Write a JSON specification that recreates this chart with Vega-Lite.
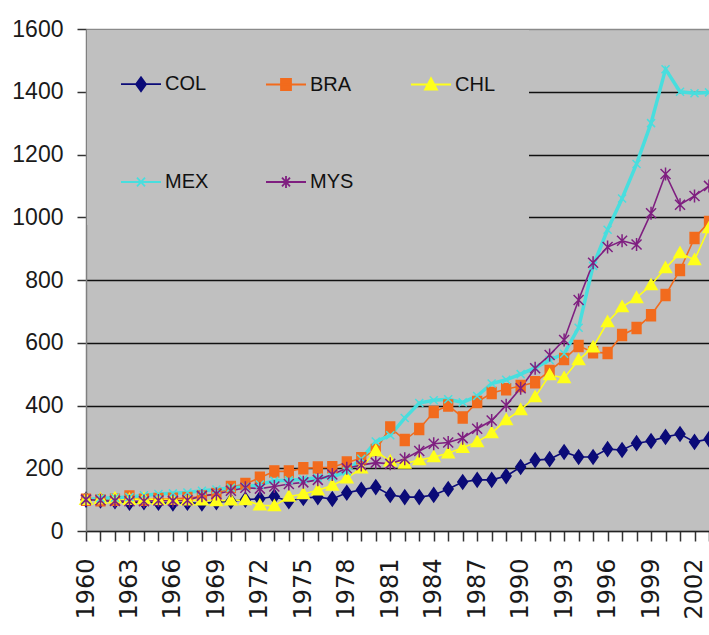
{
  "$schema": "https://vega.github.io/schema/vega-lite/v6.json",
  "width": 623,
  "height": 502,
  "autosize": {"type": "none"},
  "padding": {"left": 86, "top": 29, "right": 0, "bottom": 104},
  "background": "#ffffff",
  "config": {"view": {"fill": "#c0c0c0", "stroke": null}},
  "data": {
    "values": [
      {"year": 1960, "COL": 100, "BRA": 100, "CHL": 100, "MEX": 100, "MYS": 100},
      {"year": 1961, "COL": 97, "BRA": 98, "CHL": 102, "MEX": 104, "MYS": 98},
      {"year": 1962, "COL": 95, "BRA": 100, "CHL": 104, "MEX": 106, "MYS": 96},
      {"year": 1963, "COL": 90, "BRA": 110, "CHL": 100, "MEX": 108, "MYS": 95},
      {"year": 1964, "COL": 92, "BRA": 100, "CHL": 103, "MEX": 114, "MYS": 95},
      {"year": 1965, "COL": 90, "BRA": 102, "CHL": 100, "MEX": 118, "MYS": 97},
      {"year": 1966, "COL": 88, "BRA": 103, "CHL": 101, "MEX": 120, "MYS": 96},
      {"year": 1967, "COL": 90, "BRA": 105, "CHL": 98, "MEX": 123, "MYS": 98},
      {"year": 1968, "COL": 88, "BRA": 110, "CHL": 98, "MEX": 128, "MYS": 112},
      {"year": 1969, "COL": 92, "BRA": 118, "CHL": 96, "MEX": 132, "MYS": 118},
      {"year": 1970, "COL": 95, "BRA": 140, "CHL": 98, "MEX": 138, "MYS": 128},
      {"year": 1971, "COL": 100, "BRA": 150, "CHL": 99, "MEX": 140, "MYS": 138},
      {"year": 1972, "COL": 103, "BRA": 170, "CHL": 82, "MEX": 148, "MYS": 135},
      {"year": 1973, "COL": 110, "BRA": 190, "CHL": 80, "MEX": 160, "MYS": 142},
      {"year": 1974, "COL": 95, "BRA": 190, "CHL": 110, "MEX": 162, "MYS": 150},
      {"year": 1975, "COL": 105, "BRA": 200, "CHL": 118, "MEX": 165, "MYS": 155},
      {"year": 1976, "COL": 108, "BRA": 202, "CHL": 130, "MEX": 170, "MYS": 163},
      {"year": 1977, "COL": 102, "BRA": 203, "CHL": 145, "MEX": 172, "MYS": 180},
      {"year": 1978, "COL": 122, "BRA": 218, "CHL": 168, "MEX": 190, "MYS": 200},
      {"year": 1979, "COL": 131, "BRA": 232, "CHL": 200, "MEX": 230, "MYS": 210},
      {"year": 1980, "COL": 140, "BRA": 258, "CHL": 255, "MEX": 285, "MYS": 218},
      {"year": 1981, "COL": 115, "BRA": 330, "CHL": 222, "MEX": 305, "MYS": 214},
      {"year": 1982, "COL": 108, "BRA": 290, "CHL": 215, "MEX": 360, "MYS": 230},
      {"year": 1983, "COL": 108, "BRA": 325, "CHL": 226, "MEX": 408, "MYS": 255},
      {"year": 1984, "COL": 115, "BRA": 379, "CHL": 236, "MEX": 417, "MYS": 278},
      {"year": 1985, "COL": 134, "BRA": 400, "CHL": 248, "MEX": 420, "MYS": 282},
      {"year": 1986, "COL": 156, "BRA": 362, "CHL": 265, "MEX": 410, "MYS": 296},
      {"year": 1987, "COL": 163, "BRA": 411, "CHL": 284, "MEX": 430, "MYS": 326},
      {"year": 1988, "COL": 163, "BRA": 440, "CHL": 312, "MEX": 470, "MYS": 352},
      {"year": 1989, "COL": 175, "BRA": 452, "CHL": 354, "MEX": 482, "MYS": 401},
      {"year": 1990, "COL": 204, "BRA": 462, "CHL": 386, "MEX": 500, "MYS": 455},
      {"year": 1991, "COL": 226, "BRA": 474, "CHL": 427, "MEX": 520, "MYS": 519},
      {"year": 1992, "COL": 229, "BRA": 510, "CHL": 497, "MEX": 545, "MYS": 561},
      {"year": 1993, "COL": 252, "BRA": 548, "CHL": 488, "MEX": 565, "MYS": 609},
      {"year": 1994, "COL": 236, "BRA": 590, "CHL": 545, "MEX": 648, "MYS": 736},
      {"year": 1995, "COL": 236, "BRA": 570, "CHL": 586, "MEX": 845, "MYS": 855},
      {"year": 1996, "COL": 261, "BRA": 567, "CHL": 666, "MEX": 960, "MYS": 905},
      {"year": 1997, "COL": 258, "BRA": 625, "CHL": 714, "MEX": 1060, "MYS": 925},
      {"year": 1998, "COL": 280, "BRA": 647, "CHL": 743, "MEX": 1170, "MYS": 913},
      {"year": 1999, "COL": 287, "BRA": 688, "CHL": 784, "MEX": 1300, "MYS": 1013},
      {"year": 2000, "COL": 300, "BRA": 752, "CHL": 838, "MEX": 1472, "MYS": 1138},
      {"year": 2001, "COL": 309, "BRA": 832, "CHL": 886, "MEX": 1400, "MYS": 1040},
      {"year": 2002, "COL": 284, "BRA": 934, "CHL": 864, "MEX": 1395, "MYS": 1068},
      {"year": 2003, "COL": 293, "BRA": 985, "CHL": 966, "MEX": 1398, "MYS": 1100}
    ]
  },
  "transform": [
    {"fold": ["COL", "BRA", "CHL", "MEX", "MYS"], "as": ["series", "value"]}
  ],
  "encoding": {
    "x": {
      "field": "year",
      "type": "quantitative",
      "scale": {"domain": [1960, 2003], "nice": false, "zero": false},
      "axis": {
        "title": null,
        "values": [1960, 1961, 1962, 1963, 1964, 1965, 1966, 1967, 1968, 1969, 1970, 1971, 1972, 1973, 1974, 1975, 1976, 1977, 1978, 1979, 1980, 1981, 1982, 1983, 1984, 1985, 1986, 1987, 1988, 1989, 1990, 1991, 1992, 1993, 1994, 1995, 1996, 1997, 1998, 1999, 2000, 2001, 2002, 2003],
        "format": "d",
        "labelExpr": "(datum.value - 1960) % 3 === 0 ? datum.label : ''",
        "labelAngle": 270,
        "labelAlign": "right",
        "labelBaseline": "middle",
        "labelFont": "DejaVu Sans",
        "labelFontSize": 24,
        "labelColor": "#1a1a1a",
        "labelPadding": 17,
        "labelOverlap": false,
        "labelFlush": false,
        "labelBound": false,
        "tickSize": 10,
        "tickColor": "#333333",
        "tickWidth": 1.5,
        "domainColor": "#222222",
        "domainWidth": 1.5,
        "grid": false
      }
    },
    "y": {
      "field": "value",
      "type": "quantitative",
      "scale": {"domain": [0, 1600], "nice": false},
      "axis": {
        "title": null,
        "values": [0, 200, 400, 600, 800, 1000, 1200, 1400, 1600],
        "format": "d",
        "labelFont": "Liberation Sans",
        "labelFontSize": 23,
        "labelColor": "#1a1a1a",
        "labelPadding": 14,
        "tickSize": 9,
        "tickColor": "#333333",
        "tickWidth": 1.5,
        "domainColor": "#808080",
        "domainWidth": 1.5,
        "grid": true,
        "gridColor": {"condition": {"test": "datum.value === 0 || datum.value === 1600", "value": "#8a8a8a"}, "value": "#111111"},
        "gridWidth": 1.6
      }
    },
    "color": {
      "field": "series",
      "type": "nominal",
      "scale": {
        "domain": ["COL", "BRA", "CHL", "MEX", "MYS"],
        "range": ["#0b0b78", "#f26b1d", "#ffff1a", "#48dede", "#7f1f80"]
      },
      "legend": {
        "title": null,
        "orient": "none",
        "legendX": 1,
        "legendY": 1,
        "direction": "horizontal",
        "columns": 3,
        "padding": 33,
        "fillColor": "#c0c0c0",
        "strokeColor": null,
        "symbolSize": 1600,
        "symbolStrokeWidth": 1.8,
        "columnPadding": 53,
        "rowPadding": 66,
        "labelFont": "Liberation Sans",
        "labelFontSize": 20,
        "labelColor": "#111111",
        "labelOffset": 3,
        "symbolOffset": 0
      }
    },
    "stroke": {
      "field": "series",
      "type": "nominal",
      "scale": {
        "domain": ["COL", "BRA", "CHL", "MEX", "MYS"],
        "range": ["#0b0b78", "#f26b1d", "#ffff1a", "#48dede", "#7f1f80"]
      },
      "legend": {
        "title": null,
        "orient": "none",
        "legendX": 1,
        "legendY": 1,
        "direction": "horizontal",
        "columns": 3,
        "padding": 33,
        "fillColor": "#c0c0c0",
        "strokeColor": null,
        "symbolSize": 1600,
        "symbolStrokeWidth": 1.8,
        "columnPadding": 53,
        "rowPadding": 66,
        "labelFont": "Liberation Sans",
        "labelFontSize": 20,
        "labelColor": "#111111",
        "labelOffset": 3,
        "symbolOffset": 0
      }
    }
  },
  "layer": [
    {
      "mark": {"type": "line", "clip": false},
      "encoding": {
        "strokeWidth": {"condition": {"test": "datum.series === 'MEX'", "value": 3.5}, "value": 1.6}
      }
    },
    {
      "mark": {"type": "point", "filled": true, "opacity": 1, "clip": false, "strokeWidth": 1.5},
      "encoding": {
        "shape": {
          "condition": [
            {"test": "datum.series === 'COL'", "value": "M-0.7,0L0,-1L0.7,0L0,1Z"},
            {"test": "datum.series === 'BRA'", "value": "M-0.8,-1H0.8V1H-0.8Z"},
            {"test": "datum.series === 'CHL'", "value": "M0,-1L1,0.75L-1,0.75Z"},
            {"test": "datum.series === 'MEX'", "value": "M-1,-1L1,1M-1,1L1,-1"}
          ],
          "value": "M-1,-1L1,1M-1,1L1,-1M0,-1.3V1.3"
        },
        "size": {
          "condition": [
            {"test": "datum.series === 'COL'", "value": 196},
            {"test": "datum.series === 'BRA'", "value": 121},
            {"test": "datum.series === 'CHL'", "value": 144},
            {"test": "datum.series === 'MEX'", "value": 64}
          ],
          "value": 100
        }
      }
    },
    {
      "transform": [{"filter": "false"}],
      "mark": {"type": "point", "filled": true, "opacity": 1},
      "encoding": {
        "shape": {
          "field": "series",
          "type": "nominal",
          "scale": {
            "domain": ["COL", "BRA", "CHL", "MEX", "MYS"],
            "range": [
              "M-1,0H1M0,-0.35L0.25,0L0,0.35L-0.25,0Z",
              "M-1,0H1M-0.25,-0.28H0.25V0.28H-0.25Z",
              "M-1,0H1M0,-0.32L0.3,0.25L-0.3,0.25Z",
              "M-1,0H1M-0.2,-0.22L0.2,0.22M-0.2,0.22L0.2,-0.22",
              "M-1,0H1M-0.2,-0.22L0.2,0.22M-0.2,0.22L0.2,-0.22M0,-0.3V0.3"
            ]
          },
          "legend": {
            "title": null,
            "orient": "none",
            "legendX": 1,
            "legendY": 1,
            "direction": "horizontal",
            "columns": 3,
            "padding": 33,
            "fillColor": "#c0c0c0",
            "strokeColor": null,
            "symbolSize": 1600,
            "symbolStrokeWidth": 1.8,
            "columnPadding": 53,
            "rowPadding": 66,
            "labelFont": "Liberation Sans",
            "labelFontSize": 20,
            "labelColor": "#111111",
            "labelOffset": 3,
            "symbolOffset": 0
          }
        }
      }
    }
  ]
}
